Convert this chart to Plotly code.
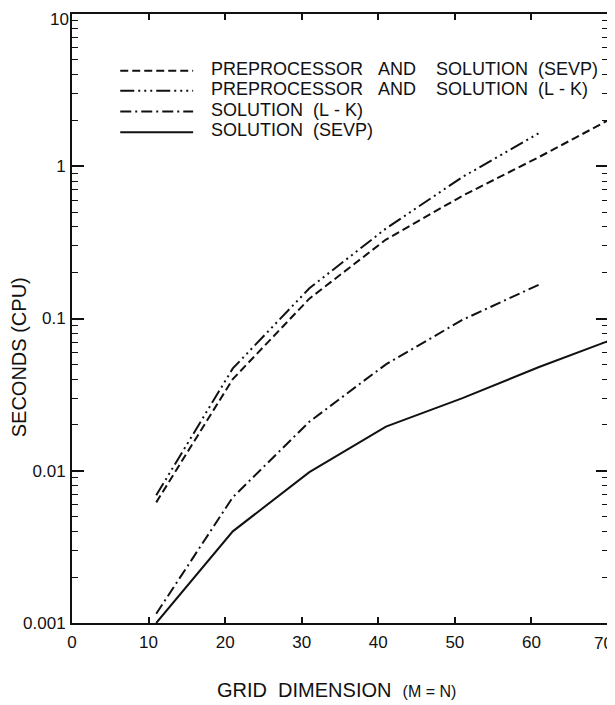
import plotly.graph_objects as go

# ---- data ----
grid_sevp = [11, 21, 31, 41, 51, 61, 70]
grid_lk = [11, 21, 31, 41, 51, 61]

pre_sevp = [0.0062, 0.040, 0.135, 0.33, 0.64, 1.15, 2.0]
pre_lk = [0.0069, 0.047, 0.158, 0.39, 0.85, 1.65]
sol_lk = [0.00115, 0.0067, 0.021, 0.050, 0.098, 0.167]
sol_sevp = [0.0010, 0.0040, 0.0098, 0.0195, 0.030, 0.048, 0.071]

NB = "\u00a0"
labels = [
    "PREPROCESSOR" + NB * 3 + "AND" + NB * 4 + "SOLUTION" + NB * 2 + "(SEVP)",
    "PREPROCESSOR" + NB * 3 + "AND" + NB * 4 + "SOLUTION" + NB * 2 + "(L" + NB + "-" + NB + "K)",
    "SOLUTION" + NB * 2 + "(L" + NB + "-" + NB + "K)",
    "SOLUTION" + NB * 2 + "(SEVP)",
]
x_title = "GRID" + NB * 2 + "DIMENSION" + NB * 2 + "<span style='font-size:16px'>(M" + NB + "=" + NB + "N)</span>"
y_title = "SECONDS" + NB + "(CPU)"

y_tickvals = [0.001, 0.01, 0.1, 1, 10]
y_ticktext = ["0.001", "0.01", "0.1", "1", "10"]
x_tickvals = [0, 10, 20, 30, 40, 50, 60, 70]
x_ticktext = ["0", "10", "20", "30", "40", "50", "60", "70"]

FONT = "Liberation Sans, Arial, Helvetica, sans-serif"
INK = "#111111"

dash_styles = ["8px,4px", "14px,4px,2px,4px,2px,4px,2px,4px", "11px,4px,2px,4px", "solid"]
series = [
    (grid_sevp, pre_sevp),
    (grid_lk, pre_lk),
    (grid_lk, sol_lk),
    (grid_sevp, sol_sevp),
]

fig = go.Figure()
for (xs, ys), dsh, name in zip(series, dash_styles, labels):
    fig.add_trace(go.Scatter(x=xs, y=ys, mode="lines", name=name,
                             line=dict(color=INK, width=2, dash=dsh),
                             showlegend=False))

# legend drawn as shapes + annotations inside the plot
leg_rows = [0.910, 0.877, 0.843, 0.809]
for yy, dsh, name in zip(leg_rows, dash_styles, labels):
    fig.add_shape(type="line", xref="paper", yref="paper",
                  x0=0.09, x1=0.226, y0=yy - 0.003, y1=yy - 0.003,
                  line=dict(color=INK, width=2, dash=dsh))
    fig.add_annotation(xref="paper", yref="paper", x=0.255, y=yy,
                       text=name, showarrow=False, xanchor="left", yanchor="middle",
                       font=dict(family=FONT, size=18, color=INK))

# axis titles as annotations (positioned like the original)
fig.add_annotation(xref="paper", yref="paper", x=0.494, y=-0.110, text=x_title,
                   showarrow=False, xanchor="center", yanchor="middle",
                   font=dict(family=FONT, size=20, color=INK))
fig.add_annotation(xref="paper", yref="paper", x=-0.1, y=0.437, text=y_title,
                   showarrow=False, textangle=-90, xanchor="center", yanchor="middle",
                   font=dict(family=FONT, size=20, color=INK))

# edge tick labels kept inside the figure
fig.add_annotation(xref="paper", yref="paper", x=-0.003, y=1.009, text=y_ticktext[-1],
                   showarrow=False, xanchor="right", yanchor="top",
                   font=dict(family=FONT, size=17, color=INK), borderpad=0)
fig.add_annotation(xref="paper", yref="paper", x=1.012, y=-0.0165, text=x_ticktext[-1],
                   showarrow=False, xanchor="right", yanchor="top",
                   font=dict(family=FONT, size=17, color=INK), borderpad=0)

minor_vals = [m * 10.0 ** e for e in range(-3, 1) for m in range(2, 10)]

# the page body adds an 8px offset, so the figure is 8px smaller and margins compensate
fig.update_layout(
    width=607, height=697,
    margin=dict(l=64, r=7, t=6, b=82),
    paper_bgcolor="white", plot_bgcolor="white",
    font=dict(family=FONT, size=17, color=INK),
    xaxis=dict(range=[0, 70], tickvals=x_tickvals, ticktext=x_ticktext[:-1] + [""],
               ticks="inside", ticklen=6,
               tickwidth=1.5, tickcolor=INK, showline=True, linewidth=2,
               linecolor=INK, mirror="ticks", showgrid=False, zeroline=False,
               tickfont=dict(size=17), ticklabelstandoff=3, automargin=False,
               ticklabeloverflow="allow"),
    yaxis=dict(type="log", range=[-3, 1], tickvals=y_tickvals,
               ticktext=y_ticktext[:-1] + [""],
               ticks="inside", ticklen=12, tickwidth=1.5, tickcolor=INK,
               showline=True, linewidth=2, linecolor=INK, mirror="ticks",
               showgrid=False, zeroline=False, tickfont=dict(size=17),
               ticklabelstandoff=1, automargin=False, ticklabeloverflow="allow",
               minor=dict(tickvals=minor_vals, ticks="inside", ticklen=6,
                          tickwidth=1.2, tickcolor=INK, showgrid=False)),
)

fig.write_html("out.html")
